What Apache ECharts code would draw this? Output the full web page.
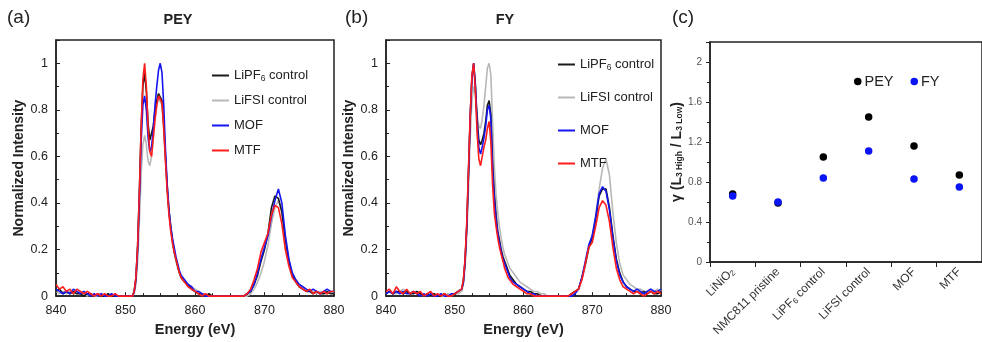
<!DOCTYPE html>
<html><head><meta charset="utf-8">
<script src="https://cdn.jsdelivr.net/npm/echarts@6/dist/echarts.min.js"></script>
<style>html,body{margin:0;padding:0;background:#fff}#c{width:982px;height:342px}</style>
</head><body><div id="c"></div>
<script>
// ---------- data ----------
const energy = [
 840,840.5,841,841.5,842,842.5,843,843.5,844,844.5,845,845.5,846,846.5,847,847.5,848,848.5,849,849.5,850,850.5,
 851,851.25,851.5,851.75,852,852.25,852.5,852.75,853,853.25,853.5,853.75,854,854.25,854.5,854.75,855,855.25,855.5,855.75,856,856.25,856.5,856.75,857,857.25,857.5,857.75,858,
 858.5,859,859.5,860,860.5,861,861.5,862,862.5,863,863.5,864,864.5,865,865.5,866,866.5,
 867,867.5,868,868.5,869,869.5,870,870.5,871,871.5,872,872.5,873,873.5,874,874.5,875,
 875.5,876,876.5,877,877.5,878,878.5,879,879.5,880
];
const seriesNames = ['LiPF6 control','LiFSI control','MOF','MTF'];

// PEY spectra
const peyLiPF6 = [
 0.02,0.03,0.01,0.02,0.01,0.02,0.01,0.01,0.00,0.01,0.01,0.00,0.01,0.00,0.00,0.01,0.00,0.00,0.00,0.00,0.00,0.00,
 0.00,0.02,0.08,0.22,0.45,0.72,0.90,0.96,0.88,0.74,0.67,0.67,0.73,0.80,0.84,0.87,0.87,0.84,0.74,0.60,0.47,0.37,0.30,0.24,0.19,0.16,0.13,0.10,0.08,
 0.06,0.05,0.03,0.02,0.01,0.01,0.00,0.01,0.00,0.00,0.00,0.00,0.00,0.00,0.00,0.00,0.00,
 0.00,0.01,0.02,0.05,0.09,0.15,0.20,0.27,0.38,0.43,0.42,0.36,0.24,0.15,0.09,0.06,0.04,
 0.03,0.02,0.02,0.01,0.02,0.01,0.01,0.02,0.01,0.01
];
const peyLiFSI = [
 0.02,0.01,0.02,0.01,0.02,0.01,0.01,0.02,0.01,0.00,0.01,0.00,0.00,0.01,0.00,0.00,0.00,0.00,0.00,0.00,0.00,0.00,
 0.00,0.01,0.05,0.15,0.32,0.52,0.65,0.69,0.65,0.58,0.56,0.60,0.68,0.76,0.82,0.85,0.85,0.82,0.72,0.58,0.46,0.36,0.29,0.23,0.19,0.15,0.12,0.10,0.08,
 0.06,0.05,0.04,0.03,0.02,0.01,0.01,0.00,0.00,0.00,0.00,0.00,0.00,0.00,0.00,0.00,0.00,
 0.00,0.00,0.01,0.03,0.06,0.10,0.15,0.22,0.31,0.38,0.41,0.37,0.26,0.16,0.10,0.07,0.05,
 0.04,0.03,0.02,0.02,0.01,0.02,0.01,0.01,0.02,0.01
];
const peyMOF = [
 0.03,0.02,0.01,0.02,0.01,0.03,0.02,0.01,0.02,0.01,0.00,0.01,0.00,0.01,0.00,0.00,0.01,0.00,0.00,0.00,0.00,0.00,
 0.00,0.02,0.07,0.20,0.42,0.66,0.82,0.86,0.80,0.68,0.62,0.64,0.72,0.82,0.90,0.97,1.00,0.96,0.82,0.63,0.48,0.37,0.30,0.25,0.21,0.17,0.14,0.11,0.09,
 0.07,0.05,0.04,0.02,0.02,0.01,0.00,0.00,0.00,0.00,0.00,0.00,0.00,0.00,0.00,0.00,0.00,
 0.00,0.01,0.02,0.05,0.10,0.16,0.21,0.26,0.34,0.41,0.46,0.40,0.26,0.16,0.10,0.07,0.05,
 0.04,0.03,0.02,0.03,0.02,0.01,0.02,0.03,0.02,0.02
];
const peyMTF = [
 0.05,0.03,0.04,0.02,0.03,0.01,0.03,0.02,0.01,0.02,0.01,0.00,0.01,0.00,0.01,0.00,0.00,0.01,0.00,0.00,0.00,0.00,
 0.00,0.02,0.08,0.22,0.45,0.72,0.93,1.00,0.90,0.72,0.62,0.60,0.68,0.76,0.82,0.86,0.86,0.83,0.72,0.58,0.45,0.35,0.28,0.23,0.19,0.16,0.13,0.10,0.08,
 0.06,0.04,0.03,0.02,0.01,0.00,0.01,0.00,0.00,0.00,0.00,0.00,0.00,0.00,0.00,0.00,0.00,
 0.00,0.01,0.03,0.07,0.12,0.19,0.23,0.27,0.35,0.39,0.38,0.31,0.20,0.13,0.08,0.06,0.04,
 0.03,0.02,0.03,0.01,0.02,0.01,0.02,0.01,0.02,0.02
];

// FY spectra
const fyLiPF6 = [
 0.01,0.02,0.01,0.02,0.02,0.01,0.02,0.01,0.01,0.02,0.01,0.00,0.01,0.00,0.01,0.00,0.00,0.01,0.00,0.00,0.01,0.02,
 0.03,0.06,0.15,0.30,0.53,0.77,0.94,1.00,0.91,0.76,0.67,0.65,0.67,0.70,0.75,0.82,0.84,0.78,0.57,0.44,0.35,0.28,0.24,0.20,0.17,0.15,0.13,0.11,0.09,
 0.07,0.05,0.04,0.03,0.02,0.02,0.01,0.01,0.00,0.00,0.00,0.00,0.00,0.00,0.00,0.00,0.00,
 0.01,0.02,0.03,0.08,0.14,0.21,0.25,0.33,0.43,0.46,0.46,0.38,0.26,0.16,0.10,0.06,0.04,
 0.03,0.02,0.02,0.01,0.02,0.01,0.02,0.01,0.01,0.02
];
const fyLiFSI = [
 0.01,0.02,0.01,0.01,0.02,0.03,0.02,0.01,0.02,0.01,0.01,0.00,0.01,0.00,0.01,0.00,0.00,0.00,0.01,0.00,0.01,0.01,
 0.02,0.05,0.12,0.26,0.46,0.68,0.84,0.90,0.86,0.78,0.73,0.72,0.76,0.82,0.90,0.98,1.00,0.95,0.75,0.56,0.44,0.36,0.30,0.25,0.21,0.18,0.16,0.14,0.12,
 0.10,0.08,0.06,0.05,0.04,0.03,0.02,0.02,0.01,0.01,0.00,0.00,0.00,0.00,0.00,0.00,0.00,
 0.01,0.02,0.03,0.07,0.13,0.20,0.26,0.35,0.46,0.55,0.59,0.52,0.36,0.23,0.14,0.09,0.07,
 0.05,0.04,0.03,0.03,0.02,0.02,0.03,0.02,0.03,0.02
];
const fyMOF = [
 0.01,0.02,0.01,0.02,0.01,0.02,0.01,0.01,0.02,0.01,0.00,0.01,0.00,0.01,0.00,0.00,0.01,0.00,0.00,0.01,0.01,0.02,
 0.03,0.06,0.15,0.30,0.53,0.77,0.94,1.00,0.90,0.74,0.64,0.61,0.64,0.68,0.73,0.80,0.82,0.76,0.55,0.42,0.33,0.27,0.23,0.19,0.16,0.14,0.12,0.10,0.08,
 0.06,0.05,0.04,0.03,0.02,0.01,0.01,0.00,0.00,0.00,0.00,0.00,0.00,0.00,0.00,0.00,0.00,
 0.00,0.01,0.03,0.08,0.15,0.22,0.26,0.34,0.44,0.47,0.45,0.37,0.25,0.15,0.09,0.06,0.04,
 0.03,0.02,0.03,0.02,0.01,0.02,0.03,0.02,0.02,0.03
];
const fyMTF = [
 0.02,0.03,0.01,0.04,0.02,0.01,0.03,0.01,0.02,0.01,0.02,0.00,0.01,0.02,0.00,0.01,0.00,0.01,0.00,0.00,0.01,0.02,
 0.03,0.07,0.16,0.32,0.55,0.78,0.95,1.00,0.88,0.70,0.59,0.56,0.60,0.64,0.67,0.72,0.75,0.66,0.48,0.36,0.30,0.25,0.21,0.18,0.15,0.12,0.10,0.08,0.07,
 0.05,0.04,0.03,0.02,0.01,0.01,0.00,0.00,0.00,0.00,0.00,0.00,0.00,0.00,0.00,0.00,0.00,
 0.01,0.02,0.03,0.07,0.14,0.21,0.23,0.30,0.38,0.41,0.39,0.32,0.21,0.12,0.07,0.04,0.03,
 0.02,0.01,0.02,0.01,0.00,0.01,0.02,0.01,0.02,0.01
];

// Panel (c)
const samples = ['LiNiO2','NMC811 pristine','LiPF6 control','LiFSI control','MOF','MTF'];
const gammaPEY = [0.68, 0.59, 1.05, 1.45, 1.16, 0.87];
const gammaFY  = [0.66, 0.60, 0.84, 1.11, 0.83, 0.75];

// ---------- chart ----------
const FONT = '"Liberation Sans", Arial, sans-serif';
const colors = {'LiPF6 control':'#1a1a1a','LiFSI control':'#b8b8b8','MOF':'#1515f0','MTF':'#ff1c1c'};
const pair = ys => energy.map((e,i)=>[e, ys[i]]);
const subRich = {sub:{fontSize:8.5, fontFamily:FONT, color:'#222', padding:[6,0,0,0]}};
const fmtName = n => n.replace('LiPF6','LiPF{sub|6}');

function specSeries(idx, arrs){
  const order = ['LiFSI control','LiPF6 control','MOF','MTF'];
  return order.map(n => ({
    name:n, type:'line', xAxisIndex:idx, yAxisIndex:idx, showSymbol:false, symbol:'none',
    color:colors[n], lineStyle:{width:1.6, color:colors[n]}, data:pair(arrs[n]), animation:false
  }));
}
function specX(idx){
  return {gridIndex:idx, type:'value', min:840, max:880, interval:10,
    axisLine:{show:true, lineStyle:{color:'#222', width:1.5}},
    axisTick:{show:true, inside:true, length:4, lineStyle:{color:'#222'}},
    minorTick:{show:true, splitNumber:4, length:3, lineStyle:{color:'#222'}},
    splitLine:{show:false},
    axisLabel:{fontSize:12.5, color:'#222', margin:8, fontFamily:FONT},
    name:'Energy (eV)', nameLocation:'middle', nameGap:25,
    nameTextStyle:{fontWeight:'bold', fontSize:14.5, color:'#222', fontFamily:FONT}};
}
function specY(idx){
  return {gridIndex:idx, type:'value', min:0, max:1.1, interval:0.2,
    axisLine:{show:true, lineStyle:{color:'#222', width:1.5}},
    axisTick:{show:true, inside:true, length:4, lineStyle:{color:'#222'}},
    minorTick:{show:true, splitNumber:2, length:3, lineStyle:{color:'#222'}},
    splitLine:{show:false},
    axisLabel:{fontSize:12.5, color:'#222', margin:8, fontFamily:FONT,
      formatter:v => (Math.abs(v*5-Math.round(v*5))<1e-6 ? String(+v.toFixed(1)) : '')},
    name:'Normalized Intensity', nameLocation:'middle', nameGap:30, nameRotate:90,
    nameTextStyle:{fontWeight:'bold', fontSize:14, color:'#222', fontFamily:FONT}};
}
function specLegend(left, top, gap){
  return {left:left, top:top, orient:'vertical', itemGap:gap, itemWidth:17, itemHeight:2, icon:'rect',
    selectedMode:false, data:seriesNames, formatter:fmtName,
    textStyle:{fontSize:13, color:'#222', fontFamily:FONT, lineHeight:15, rich:subRich}};
}

const chart = echarts.init(document.getElementById('c'), null, {renderer:'canvas'});
chart.setOption({
  animation:false,
  backgroundColor:'#fff',
  textStyle:{fontFamily:FONT},
  grid:[
    {left:56, top:40, width:278, height:258, show:true, borderColor:'#222', borderWidth:1.5},
    {left:386, top:40, width:275, height:258, show:true, borderColor:'#222', borderWidth:1.5},
    {left:710, top:42, width:282, height:220, show:true, borderColor:'#222', borderWidth:1.5}
  ],
  xAxis:[specX(0), specX(1),
    {gridIndex:2, type:'category', data:samples, boundaryGap:true,
     axisLine:{show:true, lineStyle:{color:'#222', width:1.5}},
     axisTick:{show:true, inside:false, length:5, alignWithLabel:false, lineStyle:{color:'#222'}},
     splitLine:{show:false},
     axisLabel:{rotate:45, interval:0, fontSize:12, color:'#333', margin:8, fontFamily:FONT,
       formatter:v => v.replace('LiNiO2','LiNiO{sub|2}').replace('LiPF6','LiPF{sub|6}'),
       rich:{sub:{fontSize:8, color:'#333', fontFamily:FONT, padding:[5,0,0,0]}}}}
  ],
  yAxis:[specY(0), specY(1),
    {gridIndex:2, type:'value', min:0, max:2.2, interval:0.4,
     axisLine:{show:true, lineStyle:{color:'#222', width:1.5}},
     axisTick:{show:true, inside:false, length:4, lineStyle:{color:'#222'}},
     minorTick:{show:true, splitNumber:2, length:3, lineStyle:{color:'#222'}},
     splitLine:{show:false},
     axisLabel:{fontSize:10, color:'#555', margin:8, fontFamily:FONT,
       formatter:v => (Math.abs(v*2.5-Math.round(v*2.5))<1e-6 ? String(+v.toFixed(1)) : '')},
     name:'γ (L{sub|3 High} / L{sub|3 Low})', nameLocation:'middle', nameGap:24, nameRotate:90,
     nameTextStyle:{fontWeight:'bold', fontSize:14, color:'#222', fontFamily:FONT,
       rich:{sub:{fontSize:8.5, fontWeight:'bold', color:'#222', fontFamily:FONT, padding:[6,0,0,0]}}}}
  ],
  legend:[
    specLegend(207, 63, 10),
    specLegend(553, 52, 18),
    {left:849, top:69, orient:'horizontal', itemGap:17, itemWidth:7.5, itemHeight:7.5, icon:'circle',
     selectedMode:false, data:['PEY','FY'],
     textStyle:{fontSize:14.5, color:'#222', fontFamily:FONT, padding:[0,0,0,-2]}}
  ],
  graphic:[
    {type:'text', left:7, top:8, style:{text:'(a)', font:'19px '+FONT, fill:'#222'}},
    {type:'text', x:178, y:12, style:{text:'PEY', font:'bold 14.5px '+FONT, fill:'#222', textAlign:'center'}},
    {type:'text', left:345, top:8, style:{text:'(b)', font:'19px '+FONT, fill:'#222'}},
    {type:'text', x:505, y:12, style:{text:'FY', font:'bold 14.5px '+FONT, fill:'#222', textAlign:'center'}},
    {type:'text', left:672, top:8, style:{text:'(c)', font:'19px '+FONT, fill:'#222'}}
  ],
  series:[
    ...specSeries(0, {'LiPF6 control':peyLiPF6,'LiFSI control':peyLiFSI,'MOF':peyMOF,'MTF':peyMTF}),
    ...specSeries(1, {'LiPF6 control':fyLiPF6,'LiFSI control':fyLiFSI,'MOF':fyMOF,'MTF':fyMTF}),
    {name:'PEY', type:'scatter', xAxisIndex:2, yAxisIndex:2, symbolSize:7.5, color:'#000',
     itemStyle:{color:'#000', opacity:1}, data:gammaPEY, animation:false},
    {name:'FY', type:'scatter', xAxisIndex:2, yAxisIndex:2, symbolSize:7.5, color:'#0a14f5',
     itemStyle:{color:'#0a14f5', opacity:1}, data:gammaFY, animation:false}
  ]
});
</script></body></html>
